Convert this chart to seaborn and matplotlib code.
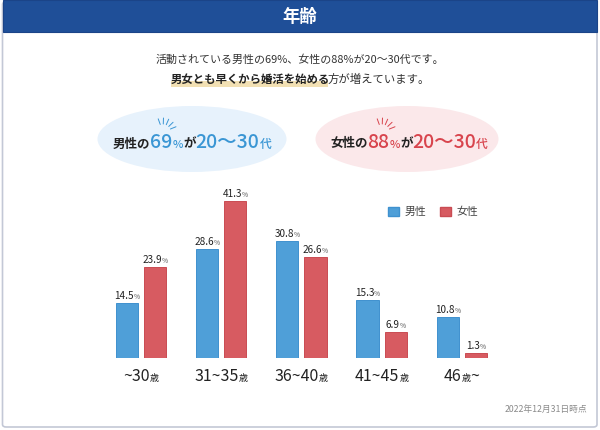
import matplotlib
matplotlib.use('Agg')
import matplotlib.pyplot as plt
import matplotlib.patches as mpatches
from matplotlib.lines import Line2D
from matplotlib.offsetbox import TextArea, HPacker, AnnotationBbox
import numpy as np
import pandas as pd
import seaborn as sns

# data
ages = ['~30', '31~35', '36~40', '41~45', '46~']
age_parts = [[('~30', 0), ('歳', 1)],
             [('31~35', 0), ('歳', 1)],
             [('36~40', 0), ('歳', 1)],
             [('41~45', 0), ('歳', 1)],
             [('46', 0), ('歳', 1), ('~', 0)]]
sexes = ['男性', '女性']
male = [14.5, 28.6, 30.8, 15.3, 10.8]
female = [23.9, 41.3, 26.6, 6.9, 1.3]

title = '年齢'
line1 = '活動されている男性の69%、女性の88%が20〜30代です。'
line2_bold = '男女とも早くから婚活を始める'
line2_rest = '方が増えています。'
footer = '2022年12月31日時点'

blue = '#4f9fd8'
blue_edge = '#3f91cf'
red = '#d75b61'
red_edge = '#c94c53'
blue_txt = '#3a96d4'
red_txt = '#d8444d'
dark = '#222222'

W, H = 600, 430

sns.set_theme(style='white')
plt.rcParams['font.family'] = ['Noto Sans CJK JP', 'DejaVu Sans']


def fx(x):
    return x / W


def fy(y):
    # y measured from the top in pixels
    return 1 - y / H


def packed(parts, sep=0):
    kids = [TextArea(t, textprops=p) for t, p in parts]
    return HPacker(children=kids, align='baseline', pad=0, sep=sep), kids


df = pd.DataFrame({'age': ages * 2,
                   'sex': [sexes[0]] * len(ages) + [sexes[1]] * len(ages),
                   'pct': male + female})

fig = plt.figure(figsize=(6, 4.3), dpi=100)
fig.patch.set_facecolor('white')

# card + header
card = mpatches.FancyBboxPatch((fx(2.5), fy(427)), fx(594.5), 425 / H,
                               boxstyle='round,pad=0,rounding_size=0.006',
                               transform=fig.transFigure, facecolor='white',
                               edgecolor='#c3c8d6', linewidth=1.2, zorder=0)
fig.add_artist(card)
fig.add_artist(mpatches.Rectangle((fx(2.5), fy(32)), fx(594.5), 32 / H,
                                  transform=fig.transFigure, facecolor='#1f4f98',
                                  edgecolor='#1b4488', linewidth=0.8, zorder=1))
fig.text(0.5, fy(16.5), title, color='white', fontsize=12.5, fontweight='bold',
         ha='center', va='center', zorder=2)

# subtitle lines
fig.text(0.5, fy(60), line1, color='#333333', fontsize=7.9, ha='center', va='center')
box2, kids2 = packed([(line2_bold, dict(color=dark, fontsize=8.2, fontweight='bold')),
                      (line2_rest, dict(color='#333333', fontsize=8.2))], sep=-2)
ab2 = AnnotationBbox(box2, (0.5, fy(79)), xycoords='figure fraction',
                     box_alignment=(0.5, 0.5), frameon=False, pad=0, zorder=3)
fig.add_artist(ab2)

# ellipses
fig.add_artist(mpatches.Ellipse((fx(192), fy(139)), fx(189), 66 / H,
                                transform=fig.transFigure, facecolor='#e7f2fc',
                                edgecolor='none', zorder=1))
fig.add_artist(mpatches.Ellipse((fx(407), fy(139)), fx(183), 66 / H,
                                transform=fig.transFigure, facecolor='#fbe8ea',
                                edgecolor='none', zorder=1))

for cx, who, num, col in [(192, '男性の', '69', blue_txt), (409, '女性の', '88', red_txt)]:
    box, _ = packed([(who, dict(color=dark, fontsize=9.0, fontweight='semibold')),
                     (num, dict(color=col, fontsize=14, fontweight='medium')),
                     ('%', dict(color=col, fontsize=8, fontweight='medium')),
                     ('が', dict(color=dark, fontsize=9.0, fontweight='semibold')),
                     ('20〜30', dict(color=col, fontsize=14, fontweight='medium')),
                     ('代', dict(color=col, fontsize=8.5, fontweight='medium'))])
    fig.add_artist(AnnotationBbox(box, (fx(cx), fy(142)), xycoords='figure fraction',
                                  box_alignment=(0.5, 0.5), frameon=False, pad=0, zorder=3))

# little rays above the percentages
for rx, col in [(163, blue_txt), (382, red_txt)]:
    for ang in [110, 88, 66, 44, 22]:
        a = np.deg2rad(ang)
        xs = [rx + 8 * np.cos(a), rx + 14 * np.cos(a)]
        ys = [132 - 8 * np.sin(a), 132 - 14 * np.sin(a)]
        fig.add_artist(Line2D([fx(v) for v in xs], [fy(v) for v in ys],
                              transform=fig.transFigure, color=col, lw=0.7, zorder=3))

# bar chart
ax = fig.add_axes([0.1548, 0.1674, 0.695, 0.3977])
sns.barplot(data=df, x='age', y='pct', hue='sex', order=ages, hue_order=sexes,
            palette=[blue, red], saturation=1, width=0.7, gap=0.21,
            errorbar=None, legend=False, linewidth=0.7, ax=ax)
for cont, ec in zip(ax.containers, [blue_edge, red_edge]):
    for p in cont:
        p.set_edgecolor(ec)
ax.set_xlim(-0.6, 4.6)
ax.set_ylim(0, 45)
ax.set_axis_off()

# value labels
for cont in ax.containers:
    for p in cont:
        v = p.get_height()
        box, _ = packed([('{:.1f}'.format(v), dict(color=dark, fontsize=7.2)),
                         ('%', dict(color='#555555', fontsize=4.8))])
        ax.add_artist(AnnotationBbox(box, (p.get_x() + p.get_width() / 2, v),
                                     xycoords='data', xybox=(0, 1.5),
                                     boxcoords='offset points',
                                     box_alignment=(0.5, 0), frameon=False, pad=0))

# category labels
for i, parts in enumerate(age_parts):
    box, _ = packed([(t, dict(color=dark, fontsize=6.5 if small else 11.5))
                     for t, small in parts])
    ax.add_artist(AnnotationBbox(box, (i, 0), xycoords=ax.get_xaxis_transform(),
                                 xybox=(0, -7), boxcoords='offset points',
                                 box_alignment=(0.5, 1), frameon=False, pad=0,
                                 annotation_clip=False))

handles = [mpatches.Patch(facecolor=blue, edgecolor=blue_edge, label=sexes[0]),
           mpatches.Patch(facecolor=red, edgecolor=red_edge, label=sexes[1])]
ax.legend(handles=handles, loc='center', bbox_to_anchor=(0.816, 0.854), ncol=2,
          frameon=False, handlelength=1.0, handleheight=1.0, columnspacing=1.3,
          handletextpad=0.5, fontsize=7.8, labelcolor='#444444')

fig.text(fx(587), fy(409), footer, color='#8a8a8a', fontsize=6.3, ha='right', va='center')

# marker-style highlight under the bold part of line 2
fig.canvas.draw()
bb = kids2[0].get_window_extent(fig.canvas.get_renderer())
fig.add_artist(mpatches.Rectangle((bb.x0 / W, fy(87)), (bb.width - 2) / W, 6 / H,
                                  transform=fig.transFigure, facecolor='#f2e0b3',
                                  edgecolor='none', zorder=2))

fig.savefig('out.png', dpi=100, facecolor='white')
